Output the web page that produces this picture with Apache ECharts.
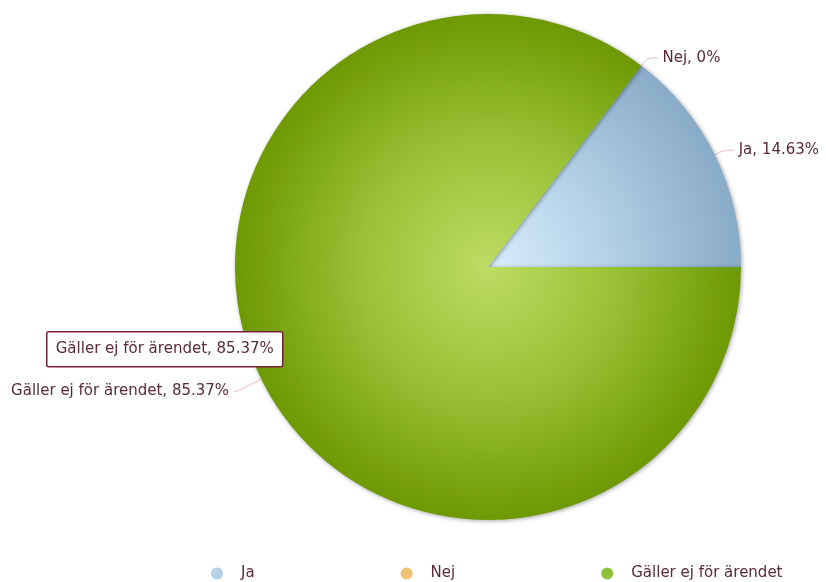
<!DOCTYPE html>
<html>
<head>
<meta charset="utf-8">
<script src="https://cdn.jsdelivr.net/npm/echarts@6/dist/echarts.min.js"></script>
<style>
html,body{margin:0;padding:0;background:#fff;}
#chart{width:826px;height:582px;}
</style>
</head>
<body>
<div id="chart"></div>
<script>
const categories = ['Ja', 'Nej', 'Gäller ej för ärendet'];
const values = [6, 0, 35];
const tooltipText = 'Gäller ej för ärendet, 85.37%';

const CX = 488, CY = 267, R = 253;
const FONT = 'DejaVu Sans';
const TXT = '#5a2a3c';

function radial(stops) {
  return {type: 'radial', x: CX, y: CY, r: R, global: true,
    colorStops: stops.map((c, i) => ({offset: i / (stops.length - 1), color: c}))};
}
const sliceColors = [
  radial(['#d8eefc', '#b0cfe6', '#88abc7']),
  radial(['#fbd9a0', '#f0bb6a', '#e09a3a']),
  radial(['#bddc63', '#99c235', '#6d9903'])
];
const legendColors = ['#b5cfe6', '#f2c275', '#8fc23a'];

const chart = echarts.init(document.getElementById('chart'));
chart.setOption({
  animation: false,
  legend: {
    left: 206, top: 561,
    itemWidth: 12, itemHeight: 12, itemGap: 146,
    icon: 'circle',
    textStyle: {fontFamily: FONT, fontSize: 15, color: TXT, padding: [0, 0, 0, 13]},
    data: categories.map((n, i) => ({name: n, itemStyle: {color: legendColors[i]}}))
  },
  series: [{
    type: 'pie',
    center: [CX, CY],
    radius: R,
    startAngle: 0,
    clockwise: false,
    legendHoverLink: false,
    itemStyle: {shadowBlur: 4, shadowColor: 'rgba(0,0,0,0.35)', shadowOffsetX: 1, shadowOffsetY: 1},
    label: {
      show: true,
      formatter: '{b}, {d}%',
      overflow: 'none',
      fontFamily: FONT, fontSize: 15, color: TXT
    },
    labelLine: {show: true, length: 10, length2: 10, smooth: true, lineStyle: {color: '#e2b3c3', width: 1}},
    data: categories.map((n, i) => ({
      name: n, value: values[i], itemStyle: {color: sliceColors[i]},
      labelLine: i === 2 ? {length: 27, length2: 3} : undefined
    }))
  }],
  graphic: [{
    type: 'group', left: 46, top: 331, z: 100, zlevel: 1,
    children: [
      {type: 'rect', z: 100, shape: {x: 0, y: 0, width: 236, height: 35, r: 2},
       style: {fill: '#ffffff', stroke: '#7a2036', lineWidth: 1.5}},
      {type: 'text', z: 101, x: 118, y: 17.5,
       style: {text: tooltipText, fontFamily: FONT, fontSize: 15, fill: TXT, align: 'center', verticalAlign: 'middle', overflow: 'none'}}
    ]
  }]
});
</script>
</body>
</html>
